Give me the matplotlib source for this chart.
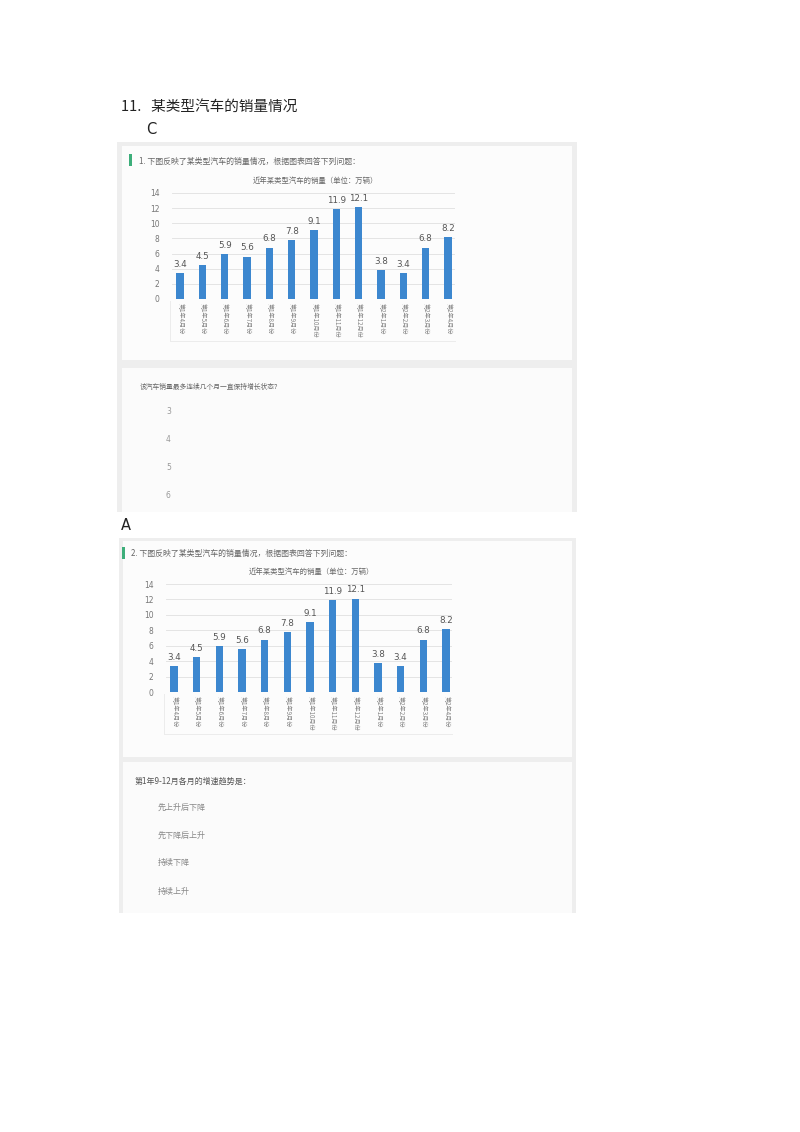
import matplotlib
matplotlib.use("Agg")
import matplotlib.pyplot as plt
from matplotlib.patches import Rectangle

plt.rcParams['font.family'] = ['Noto Sans CJK SC', 'DejaVu Sans']

# data
months = ["第1年4月份", "第1年5月份", "第1年6月份", "第1年7月份", "第1年8月份",
          "第1年9月份", "第1年10月份", "第1年11月份", "第1年12月份",
          "第2年1月份", "第2年2月份", "第2年3月份", "第2年4月份"]
sales = [3.4, 4.5, 5.9, 5.6, 6.8, 7.8, 9.1, 11.9, 12.1, 3.8, 3.4, 6.8, 8.2]
yticks = [0, 2, 4, 6, 8, 10, 12, 14]

heading = "11.   某类型汽车的销量情况"
answer1 = "C"
answer2 = "A"
chart_title = "近年某类型汽车的销量（单位：万辆）"
q1_intro = "1. 下图反映了某类型汽车的销量情况，根据图表回答下列问题："
q2_intro = "2. 下图反映了某类型汽车的销量情况，根据图表回答下列问题："
q1_text = "该汽车销量最多连续几个月一直保持增长状态？"
q1_opts = ["3", "4", "5", "6"]
q2_text = "第1年9-12月各月的增速趋势是："
q2_opts = ["先上升后下降", "先下降后上升", "持续下降", "持续上升"]

W, H = 800, 1132
fig = plt.figure(figsize=(W / 100, H / 100), dpi=100)
fig.patch.set_facecolor("white")

# page overlay in pixel coords
page = fig.add_axes([0, 0, 1, 1])
page.set_xlim(0, W)
page.set_ylim(H, 0)
page.axis("off")

txt_gray = "#777777"
bar_col = "#3c87cf"


def box(x0, y0, x1, y1, color):
    page.add_patch(Rectangle((x0, y0), x1 - x0, y1 - y0, facecolor=color,
                             edgecolor="none", zorder=0))


page.text(121, 107, heading, fontsize=10.5, color="#222222", va="center")
page.text(146, 129, answer1, fontsize=10.5, color="#222222", va="center",
          family="DejaVu Sans")
page.text(121, 526, answer2, fontsize=10.5, color="#222222", va="center",
          family="DejaVu Sans")

# panel 1
box(117, 142, 577, 512, "#eeeeee")
box(122, 146, 572, 360, "#fcfcfc")
box(122, 368, 572, 512, "#fbfbfb")
box(129, 154, 132, 166, "#3dae7a")
page.text(139, 161, q1_intro, fontsize=5.7, color="#666666", va="center")
page.text(140, 387, q1_text, fontsize=4.9, color="#666666", va="center")
for opt, yy in zip(q1_opts, [412, 440, 468, 496]):
    page.text(166, yy, opt, fontsize=5.5, color="#999999", va="center",
              family="DejaVu Sans")

# panel 2
box(119, 538, 576, 913, "#eeeeee")
box(123, 541, 572, 757, "#fcfcfc")
box(123, 762, 572, 913, "#fbfbfb")
box(122, 547, 125, 559, "#3dae7a")
page.text(131, 553, q2_intro, fontsize=5.7, color="#666666", va="center")
page.text(135, 781, q2_text, fontsize=5.8, color="#555555", va="center")
for opt, yy in zip(q2_opts, [807, 835, 863, 891]):
    page.text(158, yy, opt, fontsize=5.8, color="#888888", va="center")


def draw_chart(left, right, y0, y14, first, last, title_xy):
    # axes spanning pixel box, xlim chosen so bars land at first..last
    step = (last - first) / (len(sales) - 1)
    lo = (left - first) / step
    hi = (len(sales) - 1) + (right - last) / step
    ax = fig.add_axes([left / W, 1 - y0 / H, (right - left) / W, (y0 - y14) / H])
    ax.patch.set_alpha(0)
    xs = list(range(len(sales)))
    bars = ax.bar(xs, sales, width=0.32, color=bar_col, zorder=3)
    ax.bar_label(bars, labels=[f"{v:g}" for v in sales], padding=3,
                 fontsize=6.3, color="#555555", family="DejaVu Sans")
    ax.set_xlim(lo, hi)
    ax.set_ylim(0, 14)
    ax.set_yticks(yticks)
    ax.set_yticklabels([str(t) for t in yticks], fontsize=5.5, color=txt_gray,
                       family="DejaVu Sans")
    ax.yaxis.grid(True, color="#e4e4e4", linewidth=0.7, zorder=0)
    ax.set_xticks(xs)
    ax.set_xticklabels(months, rotation=270, fontsize=4.4, color="#808080",
                       va="top", ha="center")
    ax.tick_params(axis="both", length=0, pad=3)
    ax.tick_params(axis="y", pad=9)
    for s in ax.spines.values():
        s.set_visible(False)
    page.text(title_xy[0], title_xy[1], chart_title, fontsize=5.3,
              color="#666666", ha="center", va="center")
    # faint box round the category labels
    page.plot([left - 2, left - 2], [y0 + 2, y0 + 42], color="#ececec", lw=0.7)
    page.plot([left - 2, right], [y0 + 42, y0 + 42], color="#ececec", lw=0.7)
    return ax


draw_chart(172, 455, 299, 193, 180, 448, (315, 181))
draw_chart(166, 452, 692, 584, 174, 446, (311, 572))

fig.savefig("out.png", dpi=100)
